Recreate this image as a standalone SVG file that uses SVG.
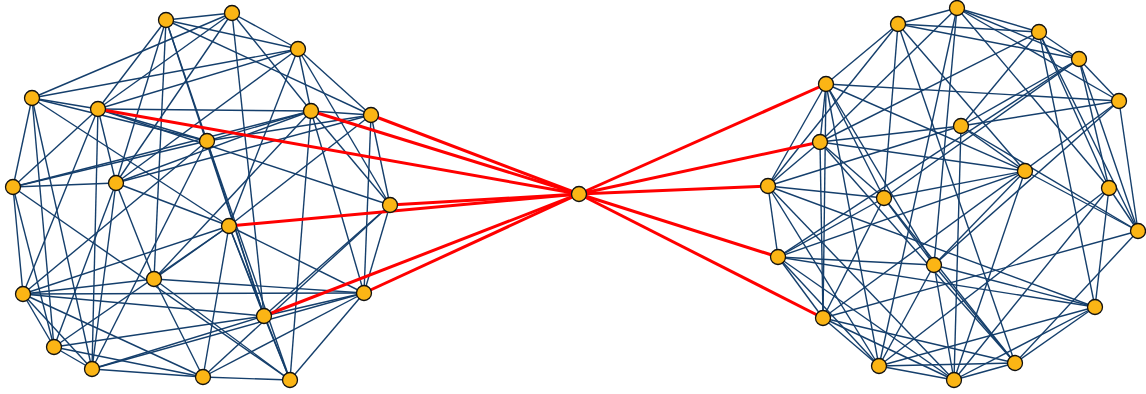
<svg xmlns="http://www.w3.org/2000/svg" width="1146" height="394" viewBox="0 0 1146 394">
<style>
.e{stroke:#153f6c;stroke-width:1.4;fill:none}
.r{stroke:#ff0000;stroke-width:3;fill:none}
.n{fill:#fbb515;stroke:#111;stroke-width:1.3}
</style>
<rect width="1146" height="394" fill="#fff"/>
<g id="connectors">
<!-- left cluster -->
<line class="e" x1="166" y1="20" x2="232" y2="13"/>
<line class="e" x1="166" y1="20" x2="298" y2="49"/>
<line class="e" x1="166" y1="20" x2="207" y2="141"/>
<line class="e" x1="166" y1="20" x2="154" y2="279"/>
<line class="e" x1="166" y1="20" x2="116" y2="183"/>
<line class="e" x1="166" y1="20" x2="371" y2="115"/>
<line class="e" x1="166" y1="20" x2="98" y2="109"/>
<line class="e" x1="166" y1="20" x2="264" y2="316"/>
<line class="e" x1="232" y1="13" x2="298" y2="49"/>
<line class="e" x1="232" y1="13" x2="311" y2="111"/>
<line class="e" x1="232" y1="13" x2="264" y2="316"/>
<line class="e" x1="232" y1="13" x2="98" y2="109"/>
<line class="e" x1="232" y1="13" x2="32" y2="98"/>
<line class="e" x1="232" y1="13" x2="116" y2="183"/>
<line class="e" x1="298" y1="49" x2="311" y2="111"/>
<line class="e" x1="298" y1="49" x2="371" y2="115"/>
<line class="e" x1="298" y1="49" x2="390" y2="205"/>
<line class="e" x1="298" y1="49" x2="229" y2="226"/>
<line class="e" x1="298" y1="49" x2="116" y2="183"/>
<line class="e" x1="298" y1="49" x2="32" y2="98"/>
<line class="e" x1="298" y1="49" x2="98" y2="109"/>
<line class="e" x1="32" y1="98" x2="98" y2="109"/>
<line class="e" x1="32" y1="98" x2="13" y2="187"/>
<line class="e" x1="32" y1="98" x2="54" y2="347"/>
<line class="e" x1="32" y1="98" x2="92" y2="369"/>
<line class="e" x1="32" y1="98" x2="207" y2="141"/>
<line class="e" x1="32" y1="98" x2="229" y2="226"/>
<line class="e" x1="98" y1="109" x2="311" y2="111"/>
<line class="e" x1="98" y1="109" x2="207" y2="141"/>
<line class="e" x1="98" y1="109" x2="13" y2="187"/>
<line class="e" x1="98" y1="109" x2="116" y2="183"/>
<line class="e" x1="98" y1="109" x2="92" y2="369"/>
<line class="e" x1="98" y1="109" x2="390" y2="205"/>
<line class="e" x1="98" y1="109" x2="23" y2="294"/>
<line class="e" x1="311" y1="111" x2="371" y2="115"/>
<line class="e" x1="311" y1="111" x2="207" y2="141"/>
<line class="e" x1="311" y1="111" x2="116" y2="183"/>
<line class="e" x1="311" y1="111" x2="13" y2="187"/>
<line class="e" x1="311" y1="111" x2="390" y2="205"/>
<line class="e" x1="311" y1="111" x2="364" y2="293"/>
<line class="e" x1="311" y1="111" x2="290" y2="380"/>
<line class="e" x1="311" y1="111" x2="154" y2="279"/>
<line class="e" x1="371" y1="115" x2="390" y2="205"/>
<line class="e" x1="371" y1="115" x2="364" y2="293"/>
<line class="e" x1="371" y1="115" x2="207" y2="141"/>
<line class="e" x1="371" y1="115" x2="116" y2="183"/>
<line class="e" x1="371" y1="115" x2="229" y2="226"/>
<line class="e" x1="207" y1="141" x2="13" y2="187"/>
<line class="e" x1="207" y1="141" x2="264" y2="316"/>
<line class="e" x1="207" y1="141" x2="290" y2="380"/>
<line class="e" x1="207" y1="141" x2="23" y2="294"/>
<line class="e" x1="207" y1="141" x2="92" y2="369"/>
<line class="e" x1="13" y1="187" x2="116" y2="183"/>
<line class="e" x1="13" y1="187" x2="23" y2="294"/>
<line class="e" x1="13" y1="187" x2="54" y2="347"/>
<line class="e" x1="13" y1="187" x2="290" y2="380"/>
<line class="e" x1="116" y1="183" x2="154" y2="279"/>
<line class="e" x1="116" y1="183" x2="92" y2="369"/>
<line class="e" x1="116" y1="183" x2="229" y2="226"/>
<line class="e" x1="116" y1="183" x2="54" y2="347"/>
<line class="e" x1="390" y1="205" x2="364" y2="293"/>
<line class="e" x1="390" y1="205" x2="264" y2="316"/>
<line class="e" x1="390" y1="205" x2="203" y2="377"/>
<line class="e" x1="229" y1="226" x2="154" y2="279"/>
<line class="e" x1="229" y1="226" x2="54" y2="347"/>
<line class="e" x1="229" y1="226" x2="364" y2="293"/>
<line class="e" x1="229" y1="226" x2="264" y2="316"/>
<line class="e" x1="229" y1="226" x2="290" y2="380"/>
<line class="e" x1="229" y1="226" x2="203" y2="377"/>
<line class="e" x1="229" y1="226" x2="23" y2="294"/>
<line class="e" x1="154" y1="279" x2="23" y2="294"/>
<line class="e" x1="154" y1="279" x2="203" y2="377"/>
<line class="e" x1="154" y1="279" x2="290" y2="380"/>
<line class="e" x1="154" y1="279" x2="364" y2="293"/>
<line class="e" x1="23" y1="294" x2="364" y2="293"/>
<line class="e" x1="23" y1="294" x2="264" y2="316"/>
<line class="e" x1="23" y1="294" x2="54" y2="347"/>
<line class="e" x1="23" y1="294" x2="92" y2="369"/>
<line class="e" x1="23" y1="294" x2="203" y2="377"/>
<line class="e" x1="364" y1="293" x2="264" y2="316"/>
<line class="e" x1="364" y1="293" x2="290" y2="380"/>
<line class="e" x1="364" y1="293" x2="203" y2="377"/>
<line class="e" x1="364" y1="293" x2="92" y2="369"/>
<line class="e" x1="264" y1="316" x2="54" y2="347"/>
<line class="e" x1="264" y1="316" x2="290" y2="380"/>
<line class="e" x1="264" y1="316" x2="92" y2="369"/>
<line class="e" x1="54" y1="347" x2="92" y2="369"/>
<line class="e" x1="54" y1="347" x2="203" y2="377"/>
<line class="e" x1="92" y1="369" x2="203" y2="377"/>
<line class="e" x1="203" y1="377" x2="290" y2="380"/>
<!-- right cluster -->
<line class="e" x1="898" y1="24" x2="957" y2="8"/>
<line class="e" x1="898" y1="24" x2="826" y2="84"/>
<line class="e" x1="898" y1="24" x2="1039" y2="32"/>
<line class="e" x1="898" y1="24" x2="1079" y2="59"/>
<line class="e" x1="898" y1="24" x2="884" y2="198"/>
<line class="e" x1="898" y1="24" x2="1025" y2="171"/>
<line class="e" x1="898" y1="24" x2="1015" y2="363"/>
<line class="e" x1="898" y1="24" x2="768" y2="186"/>
<line class="e" x1="957" y1="8" x2="1039" y2="32"/>
<line class="e" x1="957" y1="8" x2="1079" y2="59"/>
<line class="e" x1="957" y1="8" x2="820" y2="142"/>
<line class="e" x1="957" y1="8" x2="1109" y2="188"/>
<line class="e" x1="957" y1="8" x2="934" y2="265"/>
<line class="e" x1="957" y1="8" x2="879" y2="366"/>
<line class="e" x1="957" y1="8" x2="1119" y2="101"/>
<line class="e" x1="1039" y1="32" x2="1079" y2="59"/>
<line class="e" x1="1039" y1="32" x2="961" y2="126"/>
<line class="e" x1="1039" y1="32" x2="1095" y2="307"/>
<line class="e" x1="1039" y1="32" x2="1109" y2="188"/>
<line class="e" x1="1039" y1="32" x2="820" y2="142"/>
<line class="e" x1="1039" y1="32" x2="1138" y2="231"/>
<line class="e" x1="1079" y1="59" x2="1119" y2="101"/>
<line class="e" x1="1079" y1="59" x2="1138" y2="231"/>
<line class="e" x1="1079" y1="59" x2="1109" y2="188"/>
<line class="e" x1="1079" y1="59" x2="961" y2="126"/>
<line class="e" x1="1079" y1="59" x2="884" y2="198"/>
<line class="e" x1="1079" y1="59" x2="778" y2="257"/>
<line class="e" x1="1119" y1="101" x2="826" y2="84"/>
<line class="e" x1="1119" y1="101" x2="961" y2="126"/>
<line class="e" x1="1119" y1="101" x2="1138" y2="231"/>
<line class="e" x1="1119" y1="101" x2="934" y2="265"/>
<line class="e" x1="1119" y1="101" x2="823" y2="318"/>
<line class="e" x1="826" y1="84" x2="820" y2="142"/>
<line class="e" x1="826" y1="84" x2="768" y2="186"/>
<line class="e" x1="826" y1="84" x2="1025" y2="171"/>
<line class="e" x1="826" y1="84" x2="884" y2="198"/>
<line class="e" x1="826" y1="84" x2="934" y2="265"/>
<line class="e" x1="826" y1="84" x2="879" y2="366"/>
<line class="e" x1="826" y1="84" x2="823" y2="318"/>
<line class="e" x1="961" y1="126" x2="820" y2="142"/>
<line class="e" x1="961" y1="126" x2="1025" y2="171"/>
<line class="e" x1="961" y1="126" x2="954" y2="380"/>
<line class="e" x1="961" y1="126" x2="768" y2="186"/>
<line class="e" x1="961" y1="126" x2="1138" y2="231"/>
<line class="e" x1="820" y1="142" x2="768" y2="186"/>
<line class="e" x1="820" y1="142" x2="1025" y2="171"/>
<line class="e" x1="820" y1="142" x2="823" y2="318"/>
<line class="e" x1="820" y1="142" x2="884" y2="198"/>
<line class="e" x1="820" y1="142" x2="1015" y2="363"/>
<line class="e" x1="768" y1="186" x2="778" y2="257"/>
<line class="e" x1="768" y1="186" x2="884" y2="198"/>
<line class="e" x1="768" y1="186" x2="1095" y2="307"/>
<line class="e" x1="768" y1="186" x2="954" y2="380"/>
<line class="e" x1="768" y1="186" x2="879" y2="366"/>
<line class="e" x1="884" y1="198" x2="934" y2="265"/>
<line class="e" x1="884" y1="198" x2="778" y2="257"/>
<line class="e" x1="884" y1="198" x2="823" y2="318"/>
<line class="e" x1="884" y1="198" x2="1025" y2="171"/>
<line class="e" x1="884" y1="198" x2="1015" y2="363"/>
<line class="e" x1="1025" y1="171" x2="934" y2="265"/>
<line class="e" x1="1025" y1="171" x2="1138" y2="231"/>
<line class="e" x1="1025" y1="171" x2="954" y2="380"/>
<line class="e" x1="1025" y1="171" x2="778" y2="257"/>
<line class="e" x1="1109" y1="188" x2="1095" y2="307"/>
<line class="e" x1="1109" y1="188" x2="954" y2="380"/>
<line class="e" x1="1109" y1="188" x2="879" y2="366"/>
<line class="e" x1="1109" y1="188" x2="1138" y2="231"/>
<line class="e" x1="1138" y1="231" x2="823" y2="318"/>
<line class="e" x1="1138" y1="231" x2="1015" y2="363"/>
<line class="e" x1="778" y1="257" x2="934" y2="265"/>
<line class="e" x1="778" y1="257" x2="823" y2="318"/>
<line class="e" x1="778" y1="257" x2="879" y2="366"/>
<line class="e" x1="778" y1="257" x2="954" y2="380"/>
<line class="e" x1="778" y1="257" x2="1095" y2="307"/>
<line class="e" x1="934" y1="265" x2="879" y2="366"/>
<line class="e" x1="934" y1="265" x2="954" y2="380"/>
<line class="e" x1="934" y1="265" x2="1095" y2="307"/>
<line class="e" x1="934" y1="265" x2="1015" y2="363"/>
<line class="e" x1="1095" y1="307" x2="1015" y2="363"/>
<line class="e" x1="1095" y1="307" x2="954" y2="380"/>
<line class="e" x1="1095" y1="307" x2="879" y2="366"/>
<line class="e" x1="823" y1="318" x2="879" y2="366"/>
<line class="e" x1="823" y1="318" x2="954" y2="380"/>
<line class="e" x1="823" y1="318" x2="1015" y2="363"/>
<line class="e" x1="879" y1="366" x2="954" y2="380"/>
<line class="e" x1="879" y1="366" x2="1015" y2="363"/>
<line class="e" x1="954" y1="380" x2="1015" y2="363"/>
<!-- bridges -->
<line class="r" x1="579" y1="194" x2="98" y2="109"/>
<line class="r" x1="579" y1="194" x2="311" y2="111"/>
<line class="r" x1="579" y1="194" x2="371" y2="115"/>
<line class="r" x1="579" y1="194" x2="390" y2="205"/>
<line class="r" x1="579" y1="194" x2="229" y2="226"/>
<line class="r" x1="579" y1="194" x2="364" y2="293"/>
<line class="r" x1="579" y1="194" x2="264" y2="316"/>
<line class="r" x1="579" y1="194" x2="826" y2="84"/>
<line class="r" x1="579" y1="194" x2="820" y2="142"/>
<line class="r" x1="579" y1="194" x2="768" y2="186"/>
<line class="r" x1="579" y1="194" x2="778" y2="257"/>
<line class="r" x1="579" y1="194" x2="823" y2="318"/>
</g>
<g id="L1"><circle class="n" cx="166" cy="20" r="7.5"/></g>
<g id="L2"><circle class="n" cx="232" cy="13" r="7.5"/></g>
<g id="L3"><circle class="n" cx="298" cy="49" r="7.5"/></g>
<g id="L4"><circle class="n" cx="32" cy="98" r="7.5"/></g>
<g id="L5"><circle class="n" cx="98" cy="109" r="7.5"/></g>
<g id="L6"><circle class="n" cx="311" cy="111" r="7.5"/></g>
<g id="L7"><circle class="n" cx="371" cy="115" r="7.5"/></g>
<g id="L8"><circle class="n" cx="207" cy="141" r="7.5"/></g>
<g id="L9"><circle class="n" cx="13" cy="187" r="7.5"/></g>
<g id="L10"><circle class="n" cx="116" cy="183" r="7.5"/></g>
<g id="L11"><circle class="n" cx="390" cy="205" r="7.5"/></g>
<g id="L12"><circle class="n" cx="229" cy="226" r="7.5"/></g>
<g id="L13"><circle class="n" cx="154" cy="279" r="7.5"/></g>
<g id="L14"><circle class="n" cx="23" cy="294" r="7.5"/></g>
<g id="L15"><circle class="n" cx="364" cy="293" r="7.5"/></g>
<g id="L16"><circle class="n" cx="264" cy="316" r="7.5"/></g>
<g id="L17"><circle class="n" cx="54" cy="347" r="7.5"/></g>
<g id="L18"><circle class="n" cx="92" cy="369" r="7.5"/></g>
<g id="L19"><circle class="n" cx="203" cy="377" r="7.5"/></g>
<g id="L20"><circle class="n" cx="290" cy="380" r="7.5"/></g>
<g id="hub"><circle class="n" cx="579" cy="194" r="7.5"/></g>
<g id="R1"><circle class="n" cx="898" cy="24" r="7.5"/></g>
<g id="R2"><circle class="n" cx="957" cy="8" r="7.5"/></g>
<g id="R3"><circle class="n" cx="1039" cy="32" r="7.5"/></g>
<g id="R4"><circle class="n" cx="1079" cy="59" r="7.5"/></g>
<g id="R5"><circle class="n" cx="1119" cy="101" r="7.5"/></g>
<g id="R6"><circle class="n" cx="826" cy="84" r="7.5"/></g>
<g id="R7"><circle class="n" cx="961" cy="126" r="7.5"/></g>
<g id="R8"><circle class="n" cx="820" cy="142" r="7.5"/></g>
<g id="R9"><circle class="n" cx="1025" cy="171" r="7.5"/></g>
<g id="R10"><circle class="n" cx="768" cy="186" r="7.5"/></g>
<g id="R11"><circle class="n" cx="884" cy="198" r="7.5"/></g>
<g id="R12"><circle class="n" cx="1109" cy="188" r="7.5"/></g>
<g id="R13"><circle class="n" cx="1138" cy="231" r="7.5"/></g>
<g id="R14"><circle class="n" cx="778" cy="257" r="7.5"/></g>
<g id="R15"><circle class="n" cx="934" cy="265" r="7.5"/></g>
<g id="R16"><circle class="n" cx="1095" cy="307" r="7.5"/></g>
<g id="R17"><circle class="n" cx="823" cy="318" r="7.5"/></g>
<g id="R18"><circle class="n" cx="879" cy="366" r="7.5"/></g>
<g id="R19"><circle class="n" cx="954" cy="380" r="7.5"/></g>
<g id="R20"><circle class="n" cx="1015" cy="363" r="7.5"/></g>
</svg>
